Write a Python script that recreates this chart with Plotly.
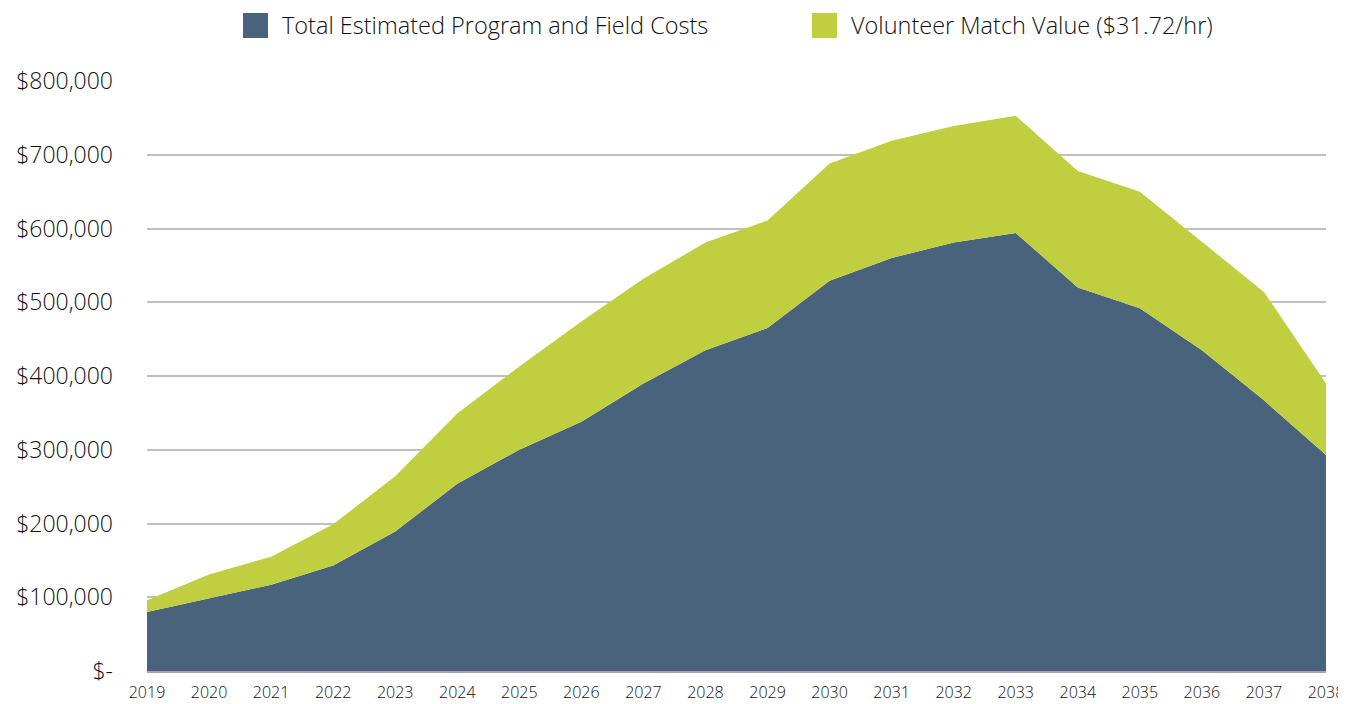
import plotly.graph_objects as go

years = list(range(2019, 2039))
program_costs = [80000, 99000, 117000, 143000, 189000, 254000, 300000, 338000, 390000, 435000,
                 465000, 529000, 560000, 581000, 594000, 520000, 492000, 435000, 367000, 293000]
volunteer_match = [16000, 32000, 38000, 56000, 75000, 95000, 113000, 136000, 142000, 146000,
                   146000, 159000, 159000, 158000, 159000, 158000, 158000, 147000, 147000, 97000]
series_names = ["Total Estimated Program and Field Costs", "Volunteer Match Value ($31.72/hr)"]
y_tick_vals = [0, 100000, 200000, 300000, 400000, 500000, 600000, 700000, 800000]
y_tick_text = ["$-", "$100,000", "$200,000", "$300,000", "$400,000", "$500,000",
               "$600,000", "$700,000", "$800,000"]

BLUE = "#4A637C"
GREEN = "#C0CF3F"
FONT = "Open Sans"
TXT = "#111111"

fig = go.Figure()
fig.add_trace(go.Scatter(x=years, y=program_costs, name=series_names[0], mode="lines",
                         line=dict(width=0, color=BLUE), fillcolor=BLUE,
                         stackgroup="one", showlegend=False))
fig.add_trace(go.Scatter(x=years, y=volunteer_match, name=series_names[1], mode="lines",
                         line=dict(width=0, color=GREEN), fillcolor=GREEN,
                         stackgroup="one", showlegend=False))

# page offset from default body margin
OFF = 8
W, H = 1338, 696
L, R, T, B = 147 - OFF, W - (1326 - OFF), 81 - OFF, H - (671 - OFF)
pw = W - L - R
ph = H - T - B

def px_x(p):
    return (p - OFF - L) / pw

def px_y(p):
    return (H - B - (p - OFF)) / ph

shapes = []
annotations = []
legend_items = [(243, series_names[0], BLUE), (812, series_names[1], GREEN)]
for left, name, col in legend_items:
    shapes.append(dict(type="rect", xref="paper", yref="paper",
                       x0=px_x(left), x1=px_x(left + 25), y0=px_y(38), y1=px_y(13),
                       fillcolor=col, line=dict(width=0)))
    annotations.append(dict(xref="paper", yref="paper", x=px_x(left + 37), y=px_y(25.5),
                            xanchor="left", yanchor="middle", text=name, showarrow=False,
                            font=dict(family=FONT, size=23.5, color=TXT, weight=300)))

fig.update_layout(
    width=W, height=H,
    margin=dict(l=L, r=R, t=T, b=B),
    paper_bgcolor="white", plot_bgcolor="white",
    showlegend=False,
    shapes=shapes, annotations=annotations,
    font=dict(family=FONT, color=TXT),
)
fig.update_xaxes(range=[2019, 2038], tickvals=years, ticktext=[str(y) for y in years],
                 tickfont=dict(family=FONT, size=16, color=TXT, weight=300),
                 showgrid=False, zeroline=False, showline=True, linecolor="#a6a6a6", linewidth=1.5,
                 ticks="", ticklabelstandoff=6, fixedrange=True, automargin=False)
fig.update_yaxes(range=[0, 800000], tickvals=y_tick_vals, ticktext=y_tick_text,
                 tickfont=dict(family=FONT, size=23, color=TXT, weight=300),
                 showgrid=True, gridcolor="#bfbfbf", gridwidth=2, zeroline=False,
                 showline=False, ticks="", ticklabelstandoff=33, fixedrange=True, automargin=False)

fig.write_html("out.html")
